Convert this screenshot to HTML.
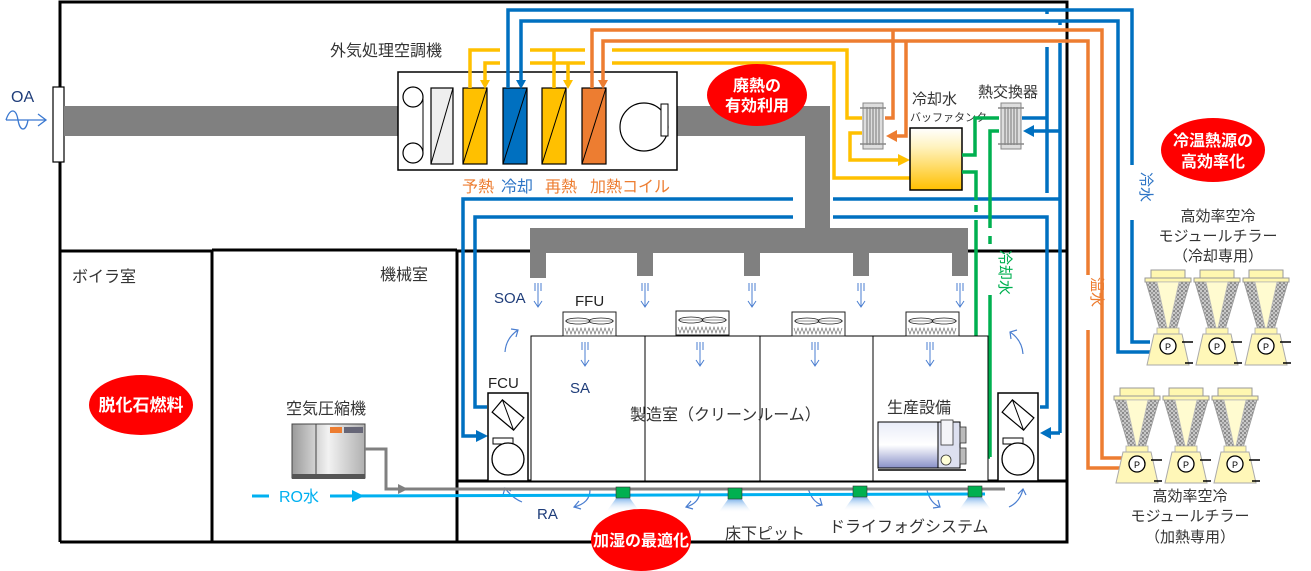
<!DOCTYPE html>
<html><head><meta charset="utf-8">
<style>
html,body{margin:0;padding:0;background:#fff;}
svg{display:block;}
text{font-family:"Liberation Sans","Noto Sans CJK JP",sans-serif;}
</style></head>
<body>
<svg width="1311" height="571" viewBox="0 0 1311 571" xmlns="http://www.w3.org/2000/svg">
<defs>
<pattern id="hat" width="4" height="4" patternUnits="userSpaceOnUse">
<rect width="4" height="4" fill="#c8c8c8"/><rect width="2" height="2" fill="#8a8a8a"/><rect x="2" y="2" width="2" height="2" fill="#9a9a9a"/>
</pattern>
<linearGradient id="tank" x1="0" y1="0" x2="0" y2="1">
<stop offset="0" stop-color="#fff"/><stop offset="0.3" stop-color="#fff3c0"/><stop offset="1" stop-color="#ffc000"/>
</linearGradient>
<linearGradient id="comp" x1="0" y1="0" x2="1" y2="0">
<stop offset="0" stop-color="#9a9a9a"/><stop offset="0.5" stop-color="#f2f2f2"/><stop offset="1" stop-color="#b0b0b0"/>
</linearGradient>
<linearGradient id="eq" x1="0" y1="0" x2="0" y2="1">
<stop offset="0" stop-color="#e8ecf8"/><stop offset="0.5" stop-color="#fff"/><stop offset="1" stop-color="#8890c8"/>
</linearGradient>
<linearGradient id="noz" x1="0" y1="0" x2="0" y2="1">
<stop offset="0" stop-color="#6aa8e8"/><stop offset="1" stop-color="#ffffff" stop-opacity="0"/>
</linearGradient>
<g id="ch">
<rect x="6" y="0" width="34" height="8" fill="#fff7b0" stroke="#999" stroke-width="1"/>
<rect x="0" y="8" width="46" height="4" fill="#fff7b0" stroke="#999" stroke-width="1"/>
<polygon points="1,12 45,12 31,60 15,60" fill="url(#hat)" stroke="#999" stroke-width="0.8"/>
<polygon points="12,12 34,12 24,58 22,58" fill="#fffbd0" stroke="#bbb" stroke-width="0.8"/>
<rect x="12" y="58" width="22" height="6" fill="#fff7b0" stroke="#aaa" stroke-width="0.8"/>
<polygon points="9,64 37,64 44,95 2,95" fill="#fff7b8" stroke="#aaa" stroke-width="1"/>
<circle cx="23" cy="76" r="8" fill="#fff" stroke="#000" stroke-width="1.3"/>
<text x="23" y="80" font-size="9" text-anchor="middle">P</text>
<line x1="37" y1="72" x2="48" y2="72" stroke="#000" stroke-width="1.5"/>
<line x1="40" y1="93" x2="48" y2="93" stroke="#000" stroke-width="1.5"/>
</g>
<g id="ffu">
<rect x="0" y="0" width="53" height="24" fill="#fff" stroke="#222" stroke-width="1"/>
<ellipse cx="15" cy="9" rx="12" ry="3" fill="none" stroke="#222" stroke-width="0.8"/>
<ellipse cx="38" cy="9" rx="12" ry="3" fill="none" stroke="#222" stroke-width="0.8"/>
<line x1="2" y1="9" x2="51" y2="9" stroke="#222" stroke-width="0.6"/>
<polyline points="2,16 4,22 6,16 8,22 10,16 12,22 14,16 16,22 18,16 20,22 22,16 24,22 26,16 28,22 30,16 32,22 34,16 36,22 38,16 40,22 42,16 44,22 46,16 48,22 50,16" fill="none" stroke="#666" stroke-width="0.6"/>
</g>
<g id="dn">
<line x1="-3" y1="0" x2="-3" y2="8" stroke="#4a7ed0" stroke-width="1"/>
<line x1="3" y1="0" x2="3" y2="8" stroke="#4a7ed0" stroke-width="1"/>
<line x1="0" y1="0" x2="0" y2="24" stroke="#4a7ed0" stroke-width="1"/>
<polyline points="-4,18 0,24 4,18" fill="none" stroke="#4a7ed0" stroke-width="1"/>
</g>
<g id="fcu">
<rect x="0" y="0" width="40" height="88" fill="#fff" stroke="#000" stroke-width="1.5"/>
<g transform="translate(20,22) rotate(40)"><rect x="-14" y="-8" width="28" height="16" fill="#fff" stroke="#000" stroke-width="1.2"/><line x1="-14" y1="-8" x2="14" y2="8" stroke="#000"/></g>
<rect x="5" y="45" width="20" height="6" fill="#fff" stroke="#000" stroke-width="1"/>
<circle cx="20" cy="66" r="16" fill="#fff" stroke="#000" stroke-width="1.3"/>
</g>
<g id="hx">
<rect x="3" y="0" width="20" height="46" fill="#ddd" stroke="#888" stroke-width="1"/>
<line x1="7" y1="4" x2="7" y2="42" stroke="#777"/><line x1="10" y1="4" x2="10" y2="42" stroke="#777"/><line x1="13" y1="4" x2="13" y2="42" stroke="#777"/><line x1="16" y1="4" x2="16" y2="42" stroke="#777"/><line x1="19" y1="4" x2="19" y2="42" stroke="#777"/>
<line x1="0" y1="5" x2="26" y2="5" stroke="#888" stroke-width="1.5"/>
<line x1="0" y1="41" x2="26" y2="41" stroke="#888" stroke-width="1.5"/>
</g>
</defs>

<g stroke="#000" stroke-width="3" fill="none">
<polyline points="60,542 60,2 1067,2 1067,542 60,542"/>
<line x1="60" y1="251" x2="212" y2="251"/>
<line x1="212" y1="251" x2="212" y2="542"/>
<line x1="212" y1="250" x2="457" y2="250"/>
<line x1="457" y1="250" x2="457" y2="542"/>
<line x1="457" y1="251" x2="1067" y2="251"/>
<line x1="457" y1="481" x2="1067" y2="481"/>
</g>

<rect x="53" y="87" width="11" height="75" fill="#fff" stroke="#000" stroke-width="1.2"/>
<text x="11" y="102" font-size="16" fill="#1f3d7a">OA</text>
<path d="M6,120 C10,108 16,108 18,120 C20,132 26,132 28,120" fill="none" stroke="#3a78d0" stroke-width="1.3"/>
<line x1="6" y1="120" x2="46" y2="120" stroke="#3a78d0" stroke-width="1.3"/>
<polyline points="38,114 46,120 38,126" fill="none" stroke="#3a78d0" stroke-width="1.3"/>

<g fill="#808080">
<rect x="64" y="106" width="335" height="30"/>
<rect x="677" y="106" width="153" height="30"/>
<rect x="805" y="106" width="25" height="145"/>
<rect x="530" y="228" width="438" height="24"/>
<rect x="530" y="228" width="16" height="50"/>
<rect x="637" y="228" width="16" height="48"/>
<rect x="744" y="228" width="16" height="48"/>
<rect x="853" y="228" width="16" height="48"/>
<rect x="952" y="228" width="16" height="48"/>
</g>

<text x="330" y="56" font-size="16" fill="#333">外気処理空調機</text>
<rect x="398" y="72" width="279" height="98" fill="#fff" stroke="#000" stroke-width="1.5"/>
<circle cx="413" cy="97" r="10" fill="#fff" stroke="#000" stroke-width="1.2"/>
<circle cx="413" cy="153" r="10" fill="#fff" stroke="#000" stroke-width="1.2"/>
<line x1="423" y1="97" x2="423" y2="153" stroke="#000"/>
<rect x="431" y="88" width="22" height="76" fill="#eee" stroke="#000" stroke-width="1.2"/><line x1="431" y1="164" x2="453" y2="88" stroke="#000"/>
<rect x="463" y="88" width="24" height="76" fill="#ffc000" stroke="#000" stroke-width="1.2"/><line x1="463" y1="164" x2="487" y2="88" stroke="#000"/>
<rect x="503" y="88" width="24" height="76" fill="#0070c0" stroke="#000" stroke-width="1.2"/><line x1="503" y1="164" x2="527" y2="88" stroke="#000"/>
<rect x="542" y="88" width="24" height="76" fill="#ffc000" stroke="#000" stroke-width="1.2"/><line x1="542" y1="164" x2="566" y2="88" stroke="#000"/>
<rect x="582" y="88" width="24" height="76" fill="#ed7d31" stroke="#000" stroke-width="1.2"/><line x1="582" y1="164" x2="606" y2="88" stroke="#000"/>
<circle cx="644" cy="127" r="24" fill="#fff" stroke="#000" stroke-width="1.2"/>
<rect x="661" y="104" width="7" height="32" fill="#fff" stroke="#000" stroke-width="1"/>
<text x="462" y="192" font-size="16" fill="#ed7d31">予熱</text>
<text x="501" y="192" font-size="16" fill="#2e75c6">冷却</text>
<text x="545" y="192" font-size="16" fill="#ed7d31">再熱</text>
<text x="590" y="192" font-size="16" fill="#ed7d31">加熱コイル</text>

<g stroke="#ffc000" stroke-width="3.5" fill="none">
<polyline points="470,88 470,50 500,50"/>
<polyline points="485,84 485,63 500,63"/>
<line x1="530" y1="50" x2="585" y2="50"/>
<line x1="530" y1="63" x2="585" y2="63"/>
<line x1="554" y1="50" x2="554" y2="88"/>
<line x1="568" y1="63" x2="568" y2="84"/>
<polyline points="612,50 847,50 847,118 862,118"/>
<polyline points="862,133 850,133 850,160 900,160"/>
<polyline points="612,63 834,63 834,178 910,178"/>
</g>
<g fill="#ffc000">
<polygon points="480,80 490,80 485,89"/>
<polygon points="563,80 573,80 568,89"/>
<polygon points="898,154 898,166 910,160"/>
</g>

<g stroke="#0070c0" stroke-width="3.5" fill="none">
<polyline points="508,88 508,10 1132,10 1132,165"/>
<polyline points="1132,220 1132,342 1150,342"/>
<polyline points="521,84 521,21 1118,21 1118,352 1150,352"/>
<line x1="1047" y1="10" x2="1047" y2="14"/>
<line x1="1060" y1="21" x2="1060" y2="25"/>
<line x1="1047" y1="47" x2="1047" y2="193"/>
<line x1="1060" y1="43" x2="1060" y2="433"/>
<line x1="1022" y1="118" x2="1047" y2="118"/>
<line x1="1030" y1="131" x2="1060" y2="131"/>
<polyline points="793,199 463,199 463,436 478,436"/>
<line x1="833" y1="199" x2="1060" y2="199"/>
<polyline points="793,217 475,217 475,407 487,407"/>
<polyline points="833,217 1047,217 1047,407 1040,407"/>
<line x1="1060" y1="433" x2="1050" y2="433"/>
</g>
<g fill="#0070c0">
<polygon points="516,80 526,80 521,89"/>
<polygon points="1034,125 1034,137 1023,131"/>
<polygon points="476,430 476,442 488,436"/>
<polygon points="1051,427 1051,439 1040,433"/>
</g>

<g stroke="#ed7d31" stroke-width="3.5" fill="none">
<polyline points="592,88 592,30 1102,30 1102,458 1125,458"/>
<polyline points="603,84 603,41 1088,41 1088,275"/>
<polyline points="1088,330 1088,468 1125,468"/>
<polyline points="893,30 893,118 885,118"/>
<polyline points="906,41 906,136 895,136"/>
</g>
<g fill="#ed7d31">
<polygon points="598,80 608,80 603,89"/>
<polygon points="897,130 897,142 886,136"/>
</g>

<use href="#hx" x="860" y="103"/>
<use href="#hx" x="998" y="103"/>
<rect x="910" y="128" width="52" height="62" fill="url(#tank)" stroke="#000" stroke-width="1.5"/>
<text x="912" y="104" font-size="15" fill="#333">冷却水</text>
<text x="910" y="121" font-size="11" fill="#333">バッファタンク</text>
<text x="978" y="97" font-size="15" fill="#333">熱交換器</text>

<g stroke="#00b050" stroke-width="3.5" fill="none">
<polyline points="962,155 975,155 975,118 999,118"/>
<polyline points="999,131 990,131 990,228"/>
<polyline points="962,172 976,172 976,200"/>
<line x1="976" y1="205" x2="976" y2="212"/>
<line x1="976" y1="220" x2="976" y2="435"/>
<line x1="976" y1="435" x2="966" y2="435"/>
<line x1="990" y1="236" x2="990" y2="244"/>
<line x1="990" y1="295" x2="990" y2="457"/>
<line x1="990" y1="457" x2="976" y2="457"/>
</g>
<polygon points="978,451 978,463 967,457" fill="#00b050"/>
<text transform="translate(1000,250) rotate(90)" font-size="15" fill="#00b050">冷却水</text>
<text transform="translate(1141,172) rotate(90)" font-size="15" fill="#2e75c6">冷水</text>
<text transform="translate(1092,277) rotate(90)" font-size="15" fill="#ed7d31">温水</text>

<g stroke="#000" stroke-width="1" fill="#fff">
<rect x="531" y="336" width="114" height="145"/>
<rect x="645" y="336" width="115" height="145"/>
<rect x="760" y="336" width="113" height="145"/>
<rect x="873" y="336" width="115" height="145"/>
</g>
<use href="#ffu" x="563" y="312"/>
<use href="#ffu" x="676" y="311"/>
<use href="#ffu" x="792" y="312"/>
<use href="#ffu" x="906" y="312"/>
<use href="#dn" x="538" y="283"/>
<use href="#dn" x="645" y="283"/>
<use href="#dn" x="752" y="283"/>
<use href="#dn" x="861" y="283"/>
<use href="#dn" x="960" y="283"/>
<use href="#dn" x="585" y="342"/>
<use href="#dn" x="700" y="342"/>
<use href="#dn" x="815" y="342"/>
<use href="#dn" x="930" y="342"/>
<text x="494" y="303" font-size="15" fill="#1f3d7a">SOA</text>
<text x="575" y="306" font-size="15" fill="#222">FFU</text>
<text x="570" y="393" font-size="15" fill="#1f3d7a">SA</text>
<text x="630" y="420" font-size="16" fill="#333">製造室（クリーンルーム）</text>
<text x="887" y="413" font-size="16" fill="#333">生産設備</text>
<text x="488" y="388" font-size="15" fill="#222">FCU</text>
<use href="#fcu" x="488" y="393"/>
<use href="#fcu" x="998" y="393"/>

<rect x="878" y="422" width="60" height="46" fill="url(#eq)" stroke="#000" stroke-width="1"/>
<rect x="938" y="422" width="22" height="46" fill="#dde0f0" stroke="#000" stroke-width="1"/>
<rect x="941" y="420" width="12" height="25" fill="#f4f4f8" stroke="#333" stroke-width="0.8"/>
<circle cx="946" cy="460" r="5" fill="#ffffd8" stroke="#333" stroke-width="0.8"/>
<rect x="960" y="427" width="6" height="16" fill="#bbb" stroke="#333" stroke-width="0.8"/>
<rect x="960" y="448" width="6" height="16" fill="#bbb" stroke="#333" stroke-width="0.8"/>
<line x1="878" y1="470" x2="966" y2="470" stroke="#000" stroke-width="1.5"/>

<g stroke="#4a7ed0" stroke-width="1.2" fill="none">
<path d="M505,352 Q506,338 518,330"/><polyline points="511,329 518,330 516,337"/>
<path d="M1023,354 Q1022,340 1010,332"/><polyline points="1017,330 1010,332 1011,339"/>
<path d="M522,502 Q512,498 505,488"/><polyline points="503,495 505,488 511,491"/>
<path d="M590,490 Q590,503 574,507"/><polyline points="579,501 574,507 581,509"/>
<path d="M700,490 Q700,503 686,507"/><polyline points="691,501 686,507 693,509"/>
<path d="M808,488 Q812,502 822,505"/><polyline points="816,506 822,505 820,498"/>
<path d="M927,490 Q930,503 940,507"/><polyline points="933,508 940,507 938,500"/>
<path d="M1009,507 Q1020,502 1023,489"/><polyline points="1018,494 1023,489 1026,495"/>
</g>

<text x="286" y="414" font-size="16" fill="#333">空気圧縮機</text>
<rect x="292" y="424" width="73" height="54" fill="url(#comp)" stroke="#444" stroke-width="1"/>
<line x1="316" y1="424" x2="316" y2="474" stroke="#444"/>
<rect x="292" y="474" width="73" height="5" fill="#555"/>
<rect x="330" y="427" width="12" height="6" fill="#ed7d31"/>
<rect x="344" y="427" width="19" height="6" fill="#667"/>
<polyline points="365,449 386,449 386,489 1005,489" fill="none" stroke="#808080" stroke-width="3"/>
<polygon points="398,484 398,494 408,489" fill="#808080"/>
<line x1="252" y1="496" x2="269" y2="496" stroke="#00b0f0" stroke-width="3"/>
<line x1="330" y1="496" x2="985" y2="494" stroke="#00b0f0" stroke-width="3"/>
<polygon points="352,490 352,502 364,496" fill="#00b0f0"/>
<text x="279" y="502" font-size="16" fill="#00b0f0">RO水</text>

<g>
<polygon points="617,497 629,497 640,512 606,512" fill="url(#noz)"/><rect x="616" y="487" width="14" height="11" fill="#00b050" stroke="#333" stroke-width="0.6"/>
<polygon points="729,498 741,498 752,513 718,513" fill="url(#noz)"/><rect x="728" y="488" width="14" height="11" fill="#00b050" stroke="#333" stroke-width="0.6"/>
<polygon points="854,496 866,496 877,511 843,511" fill="url(#noz)"/><rect x="853" y="486" width="14" height="11" fill="#00b050" stroke="#333" stroke-width="0.6"/>
<polygon points="969,496 981,496 992,511 958,511" fill="url(#noz)"/><rect x="968" y="486" width="14" height="11" fill="#00b050" stroke="#333" stroke-width="0.6"/>
</g>
<text x="537" y="519" font-size="15" fill="#1f3d7a">RA</text>
<text x="725" y="539" font-size="16" fill="#333">床下ピット</text>
<text x="829" y="532" font-size="16" fill="#333">ドライフォグシステム</text>

<text x="72" y="282" font-size="16" fill="#333">ボイラ室</text>
<text x="380" y="280" font-size="16" fill="#333">機械室</text>

<ellipse cx="757" cy="95" rx="50" ry="31" fill="#ff0000"/>
<text x="757" y="91" font-size="16" font-weight="bold" fill="#fff" text-anchor="middle">廃熱の</text>
<text x="757" y="111" font-size="16" font-weight="bold" fill="#fff" text-anchor="middle">有効利用</text>
<ellipse cx="1213" cy="150" rx="52" ry="32" fill="#ff0000"/>
<text x="1213" y="146" font-size="16" font-weight="bold" fill="#fff" text-anchor="middle">冷温熱源の</text>
<text x="1213" y="167" font-size="16" font-weight="bold" fill="#fff" text-anchor="middle">高効率化</text>
<ellipse cx="141" cy="405" rx="52" ry="30" fill="#ff0000"/>
<text x="141" y="411" font-size="17" font-weight="bold" fill="#fff" text-anchor="middle">脱化石燃料</text>
<ellipse cx="641" cy="540" rx="50" ry="31" fill="#ff0000"/>
<text x="641" y="546" font-size="16" font-weight="bold" fill="#fff" text-anchor="middle">加湿の最適化</text>

<text x="1218" y="221" font-size="15" fill="#333" text-anchor="middle">高効率空冷</text>
<text x="1218" y="241" font-size="15" fill="#333" text-anchor="middle">モジュールチラー</text>
<text x="1218" y="261" font-size="15" fill="#333" text-anchor="middle">（冷却専用）</text>
<use href="#ch" x="1145" y="270"/>
<use href="#ch" x="1194" y="270"/>
<use href="#ch" x="1243" y="270"/>
<use href="#ch" x="1114" y="388"/>
<use href="#ch" x="1163" y="388"/>
<use href="#ch" x="1212" y="388"/>
<text x="1190" y="501" font-size="15" fill="#333" text-anchor="middle">高効率空冷</text>
<text x="1190" y="521" font-size="15" fill="#333" text-anchor="middle">モジュールチラー</text>
<text x="1190" y="542" font-size="15" fill="#333" text-anchor="middle">（加熱専用）</text>
</svg>
</body></html>
